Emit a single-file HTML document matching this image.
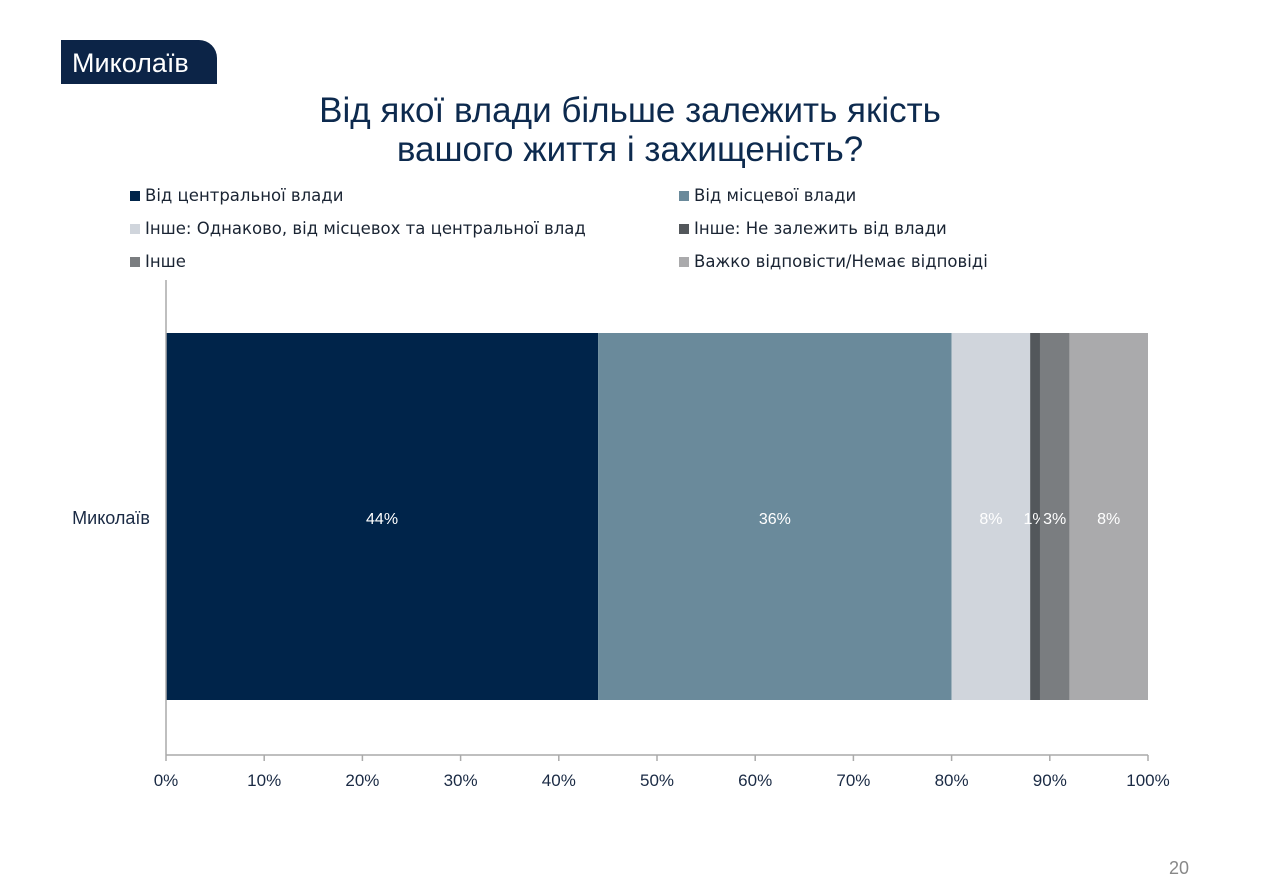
<!DOCTYPE html>
<html><head><meta charset="utf-8"><style>
body{margin:0;width:1280px;height:893px;background:#fff;font-family:"Liberation Sans","DejaVu Sans",sans-serif;position:relative;overflow:hidden}
.tag{position:absolute;left:61px;top:40px;width:156px;height:44px;background:#0c2447;border-top-right-radius:18px;color:#fff;font-size:27px;line-height:46px;padding-left:11px;box-sizing:border-box}
.title{position:absolute;left:0;width:1260px;top:91px;text-align:center;color:#0d2a4e;font-size:35px;line-height:39px}
.leg{position:absolute;font-size:16.5px;color:#1a2433;font-family:"DejaVu Sans",sans-serif}
.leg i{display:inline-block;width:10px;height:10px;margin-right:5px;vertical-align:0px}
.pg{position:absolute;left:1169px;top:858px;color:#888;font-size:18px}
</style></head><body>
<div class="tag">Миколаїв</div>
<div class="title">Від якої влади більше залежить якість<br>вашого життя і захищеність?</div>
<div id="legend"></div>
<svg id="chart" width="1280" height="893" style="position:absolute;left:0;top:0"></svg>
<div class="pg">20</div>
<script>
const seriesNames=["Від центральної влади","Від місцевої влади","Інше: Однаково, від місцевох та центральної влад","Інше: Не залежить від влади","Інше","Важко відповісти/Немає відповіді"];
const seriesValues=[44,36,8,1,3,8];
const seriesColors=["#00244a","#6a8a9b","#d0d5dc","#53575b","#7a7d80","#aaaaac"];
const category="Миколаїв";
const tickLabels=["0%","10%","20%","30%","40%","50%","60%","70%","80%","90%","100%"];
const ns="http://www.w3.org/2000/svg";
const svg=document.getElementById('chart');
const x0=166,x1=1148,yTop=333,yBot=700;
const xs=v=>x0+(x1-x0)*v/100;
function mk(t,a){const e=document.createElementNS(ns,t);for(const k in a)e.setAttribute(k,a[k]);svg.appendChild(e);return e;}
let cum=0;
seriesValues.forEach((v,i)=>{
 const r=mk('rect',{x:xs(cum),y:yTop,width:xs(cum+v)-xs(cum),height:yBot-yTop,fill:seriesColors[i]});
 
 
 const t=mk('text',{x:xs(cum+v/2),y:524,'text-anchor':'middle','font-size':16,fill:'#fff'});
 t.textContent=v+'%';
 
 
 cum+=v;
});
const ax=mk('line',{x1:x0,y1:755,x2:x1,y2:755,stroke:'#aaa','stroke-width':1.5});


const ay=mk('line',{x1:x0,y1:280,x2:x0,y2:755,stroke:'#aaa','stroke-width':1.5});


tickLabels.forEach((l,i)=>{
 const x=xs(i*10);
 const tk=mk('line',{x1:x,y1:755,x2:x,y2:761,stroke:'#aaa','stroke-width':1.5});
 
 
 const t=mk('text',{x:x,y:786,'text-anchor':'middle','font-size':17,fill:'#1a2a44'});
 t.textContent=l;
 
 
});
const cl=mk('text',{x:150,y:524,'text-anchor':'end','font-size':18,fill:'#1a2a44'});
cl.textContent=category;


const leg=document.getElementById('legend');
const pos=[[130,186],[679,186],[130,219],[679,219],[130,252],[679,252]];
seriesNames.forEach((n,i)=>{
 const d=document.createElement('div');
 d.className='leg';d.style.left=pos[i][0]+'px';d.style.top=pos[i][1]+'px';
 d.innerHTML='<i style="background:'+seriesColors[i]+'"></i>'+n;
 
 
 leg.appendChild(d);
});
</script>
</body></html>
